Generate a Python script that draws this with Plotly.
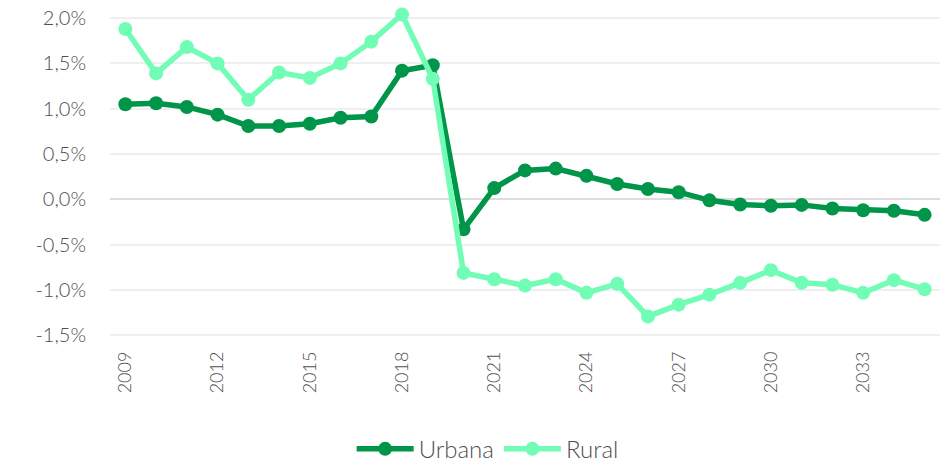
import plotly.graph_objects as go

years = list(range(2009, 2036))
urbana = [1.05, 1.06, 1.02, 0.935, 0.81, 0.81, 0.835, 0.90, 0.915, 1.42, 1.48,
          -0.33, 0.125, 0.32, 0.34, 0.26, 0.17, 0.115, 0.08, -0.01, -0.055, -0.07,
          -0.06, -0.10, -0.12, -0.125, -0.17]
rural = [1.88, 1.39, 1.68, 1.50, 1.10, 1.40, 1.34, 1.50, 1.74, 2.04, 1.33,
         -0.81, -0.88, -0.95, -0.88, -1.03, -0.93, -1.29, -1.16, -1.05, -0.92, -0.78,
         -0.92, -0.94, -1.03, -0.89, -0.99]

y_tickvals = [2.0, 1.5, 1.0, 0.5, 0.0, -0.5, -1.0, -1.5]
y_ticktext = ["2,0%", "1,5%", "1,0%", "0,5%", "0,0%", "-0,5%", "-1,0%", "-1,5%"]
x_tickvals = [2009, 2012, 2015, 2018, 2021, 2024, 2027, 2030, 2033]

C_URB = "#009548"
C_RUR = "#72FDB6"

fig = go.Figure()
fig.add_trace(go.Scatter(x=years, y=urbana, name="Urbana", mode="lines+markers",
                         line=dict(color=C_URB, width=5.5),
                         marker=dict(color=C_URB, size=14), cliponaxis=False))
fig.add_trace(go.Scatter(x=years, y=rural, name="Rural", mode="lines+markers",
                         line=dict(color=C_RUR, width=5.5),
                         marker=dict(color=C_RUR, size=14), cliponaxis=False))

fig.update_layout(
    width=948, height=464,
    margin=dict(l=110, r=8, t=9, b=124, autoexpand=False),
    plot_bgcolor="white", paper_bgcolor="white",
    font=dict(family="Lato, Open Sans, sans-serif", color="#4f4f4f", size=18, weight=300),
    showlegend=True,
    legend=dict(orientation="h", x=0.455, xanchor="center", y=-0.33, yanchor="middle",
                font=dict(family="Lato, sans-serif", size=24, color="#4f4f4f", weight=300),
                itemwidth=57, tracegroupgap=0),
)
fig.update_xaxes(range=[2008.5, 2035.5], tickvals=x_tickvals, tickangle=-90,
                 showgrid=False, zeroline=False, showline=False, ticks="", ticklen=0,
                 automargin=False,
                 tickfont=dict(size=18), ticklabelstandoff=7)
fig.update_yaxes(range=[-1.55, 2.1], tickvals=y_tickvals, ticktext=y_ticktext,
                 showgrid=True, gridcolor="#efefef", gridwidth=1.5,
                 zeroline=True, zerolinecolor="#dcdcdc", zerolinewidth=2,
                 showline=False, ticks="", ticklen=0, tickfont=dict(size=20),
                 automargin=False, ticklabelstandoff=23)

fig.write_html("out.html", config={"displayModeBar": False},
               post_script="document.body.style.margin='0';document.body.style.padding='0';")
